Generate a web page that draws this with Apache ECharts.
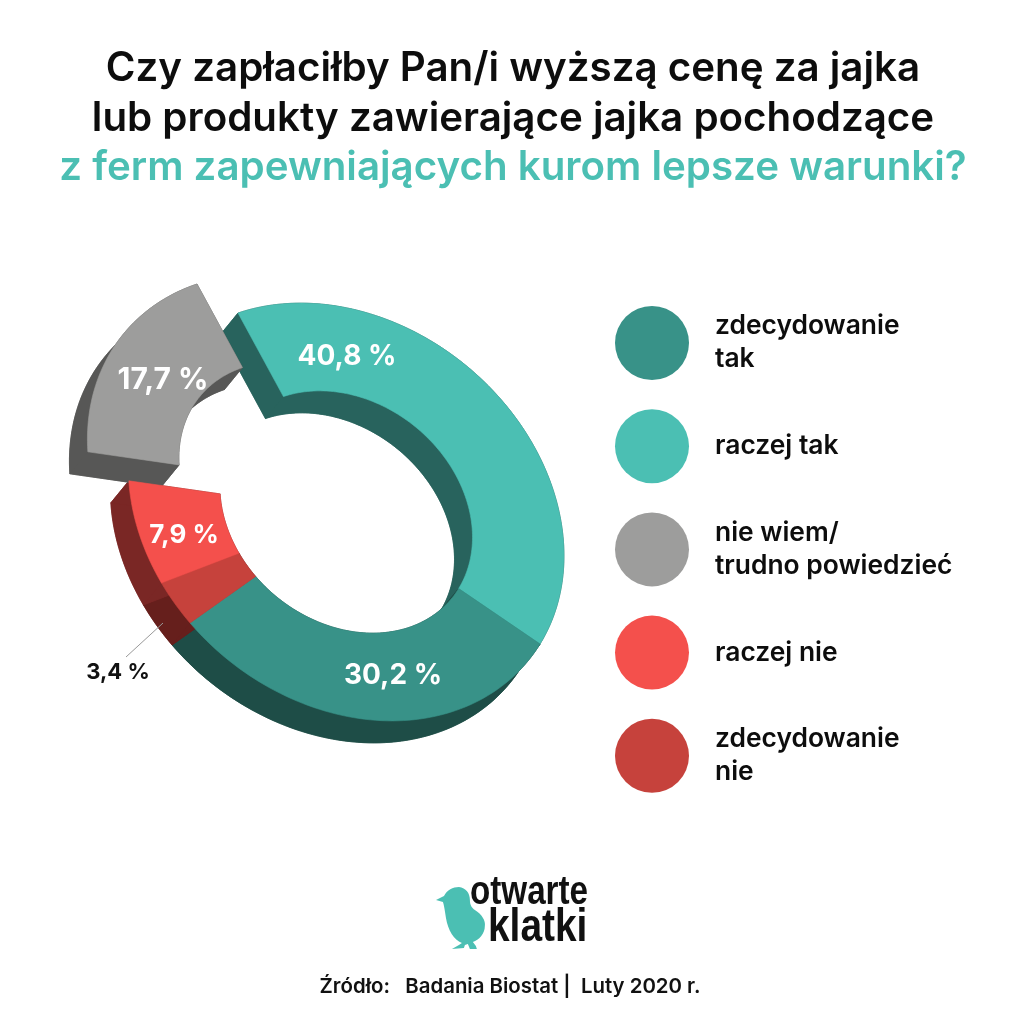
<!DOCTYPE html>
<html>
<head>
<meta charset="utf-8">
<style>html,body{margin:0;padding:0;background:#fff}#c{width:1024px;height:1024px}</style>
<script src="https://cdn.jsdelivr.net/npm/echarts@6/dist/echarts.min.js"></script>
</head>
<body>
<div id="c"></div>
<script>
const categories = ['raczej tak', 'zdecydowanie\ntak', 'zdecydowanie\nnie', 'raczej nie', 'nie wiem/\ntrudno powiedzieć'];
const values = [40.8, 30.2, 3.4, 7.9, 17.7];
const legendOrder = ['zdecydowanie\ntak', 'raczej tak', 'nie wiem/\ntrudno powiedzieć', 'raczej nie', 'zdecydowanie\nnie'];
const faceColors = ['#4bbfb3', '#389288', '#c6423c', '#f4504c', '#9d9d9c'];
const wallColors = ['#28635d', '#1e4d47', '#661f1c', '#7a2725', '#575756'];
const titleLines = 'Czy zapłaciłby Pan/i wyższą cenę za jajka\nlub produkty zawierające jajka pochodzące';
const titleAccent = 'z ferm zapewniających kurom lepsze warunki?';
const sourceText = 'Źródło:   Badania Biostat |  Luty 2020 r.';

const FONT = 'Inter, "Open Sans", sans-serif';
// projection of the tilted disc
const C = [346.2, 512], U = [-108.2, -199], V = [189, -63.5], INNER = 0.58;
const DEPTH = [-18, 22];
const offsets = [[0,0],[0,0],[0,0],[0,0],[-41,-29]];
const labelPos = [[347,357],[393,676],[118,672],[184,535],[163,380]];
const labelFill = ['#fff','#fff','#111','#fff','#fff'];
const labelSize = [28,28,22,26,30];
const total = values.reduce((a,b)=>a+b,0);

function pt(deg, k, off, d) {
  const r = deg*Math.PI/180, c = Math.cos(r), s = Math.sin(r);
  return [C[0]+k*(U[0]*c+V[0]*s)+off[0]+(d?DEPTH[0]:0), C[1]+k*(U[1]*c+V[1]*s)+off[1]+(d?DEPTH[1]:0)];
}
function arc(a, b, k, off, d) {
  const out = [], n = Math.max(2, Math.ceil((b-a)/1.5));
  for (let i=0;i<=n;i++) out.push(pt(a+(b-a)*i/n, k, off, d));
  return out;
}
function poly(points, fill, z2) {
  return {type:'polygon', z2, shape:{points}, style:{fill, stroke:fill, lineWidth:0.6}};
}
function makeRender(idx) {
  return function (params, api) {
    const v = api.value(0), cum = api.value(1);
    const a = cum/total*360, b = (cum+v)/total*360, off = offsets[idx];
    const w = wallColors[idx], f = faceColors[idx];
    const oT = arc(a,b,1,off,false), iT = arc(a,b,INNER,off,false);
    const oB = arc(a,b,1,off,true), iB = arc(a,b,INNER,off,true);
    const rev = p => p.slice().reverse();
    const children = [
      poly(oB.concat(rev(iB)), w, 1),
      poly(oT.concat(rev(oB)), w, 1),
      poly(iT.concat(rev(iB)), w, 1),
      poly([oT[0], iT[0], iB[0], oB[0]], w, 1),
      poly([oT[oT.length-1], iT[iT.length-1], iB[iB.length-1], oB[oB.length-1]], w, 1),
      poly(oT.concat(rev(iT)), f, 10),
      {type:'text', z2:20, style:{
        text: v.toFixed(1).replace('.',',')+' %', x:labelPos[idx][0], y:labelPos[idx][1],
        fill:labelFill[idx], font:'700 '+labelSize[idx]+'px '+FONT, align:'center', verticalAlign:'middle'}}
    ];
    return {type:'group', children};
  };
}
let running = 0;
const series = categories.map((name,i)=>{
  const row = [values[i], running]; running += values[i];
  return {type:'custom', name, coordinateSystem:'none', renderItem:makeRender(i),
    itemStyle:{color:faceColors[i]}, data:[row], silent:true, animation:false};
});

const chick = 'M436 900 L444 896 C447 890 453 887 459 887 C466 888 470 893 470 900 C470 905 472 908 475 910 C482 914 486 921 485 926 C485 934 479 940 473 942 L476 946 L477 949 L470 949 L468 944 L465 945 L464 948 L452 949 L459 945 L462 943 C454 940 448 930 446 918 C445 911 444 905 443 902 Z';
series.push({type:'custom', name:'logo', coordinateSystem:'none', silent:true, animation:false, data:[[0]],
  renderItem(){ return {type:'path', shape:{pathData:chick, layout:'cover', x:436, y:887, width:49, height:62}, style:{fill:'#4bbfb3'}}; }});

const chart = echarts.init(document.getElementById('c'), null, {renderer:'canvas'});
chart.setOption({
  animation:false,
  backgroundColor:'#fff',
  title:[
    {text:titleLines, left:508, top:39, textAlign:'center',
      textStyle:{fontFamily:FONT, fontWeight:600, fontSize:40.3, lineHeight:50, color:'#0d0d0d'}},
    {text:titleAccent, left:508, top:138, textAlign:'center',
      textStyle:{fontFamily:FONT, fontWeight:600, fontSize:40.3, lineHeight:50, color:'#4bbfb3'}},
    {text:sourceText, left:505, top:972, textAlign:'center',
      textStyle:{fontFamily:FONT, fontWeight:600, fontSize:20.4, color:'#111'}}
  ],
  legend:{
    data:legendOrder, orient:'vertical', left:610, top:301, icon:'circle',
    itemWidth:116, itemHeight:74, itemGap:29.2, selectedMode:false,
    textStyle:{fontFamily:FONT, fontWeight:600, fontSize:26.4, lineHeight:33, color:'#0d0d0d'}
  },
  series,
  graphic:[
    {type:'line', silent:true, shape:{x1:163,y1:623,x2:126,y2:657}, style:{stroke:'#999',lineWidth:1}, z:50},
    {type:'text', silent:true, x:470, y:893, scaleX:0.83, style:{text:'otwarte', font:'700 40px "Liberation Sans", sans-serif', fill:'#111', verticalAlign:'middle'}},
    {type:'text', silent:true, x:488, y:928, scaleX:0.845, style:{text:'klatki', font:'700 46px "Liberation Sans", sans-serif', fill:'#111', verticalAlign:'middle'}}
  ]
});
</script>
</body>
</html>
